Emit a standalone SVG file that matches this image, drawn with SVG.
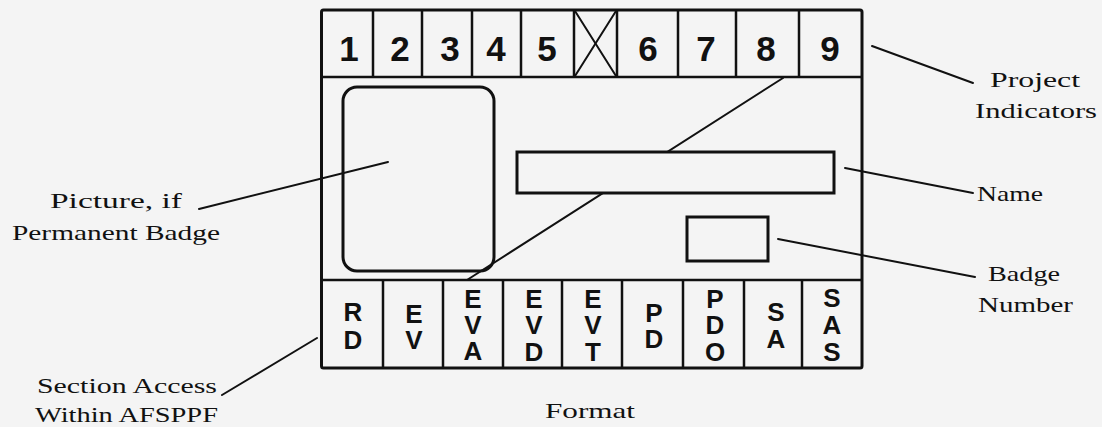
<svg xmlns="http://www.w3.org/2000/svg" width="1102" height="427" viewBox="0 0 1102 427">
<style>
.bg{fill:#f4f4f4}
.frame{fill:none;stroke:#111;stroke-width:3;stroke-linejoin:round}
.div{fill:none;stroke:#111;stroke-width:2.5}
.field{fill:#f4f4f4;stroke:#111;stroke-width:3}
.lead{fill:none;stroke:#111;stroke-width:2;stroke-linecap:round}
.num{font-family:"Liberation Sans",Arial,sans-serif;font-weight:bold;font-size:35px;fill:#111;text-anchor:middle}
.let{font-family:"Liberation Sans",Arial,sans-serif;font-weight:bold;font-size:26px;fill:#111;text-anchor:middle}
.lbl{font-family:"Liberation Serif","Times New Roman",serif;font-size:21px;fill:#111}
</style>
<rect class="bg" x="0" y="0" width="1102" height="427"/>

<g id="card">
  <rect class="frame" x="321.5" y="10" width="540.5" height="358" rx="2"/>
  <line class="div" x1="321.5" y1="77" x2="862" y2="77"/>
  <line class="div" x1="321.5" y1="280" x2="862" y2="280"/>
</g>

<g id="project-indicators-row">
  <g class="div">
    <line x1="373" y1="10" x2="373" y2="77"/>
    <line x1="422" y1="10" x2="422" y2="77"/>
    <line x1="472" y1="10" x2="472" y2="77"/>
    <line x1="521" y1="10" x2="521" y2="77"/>
    <line x1="574" y1="10" x2="574" y2="77"/>
    <line x1="617" y1="10" x2="617" y2="77"/>
    <line x1="678" y1="10" x2="678" y2="77"/>
    <line x1="736" y1="10" x2="736" y2="77"/>
    <line x1="799" y1="10" x2="799" y2="77"/>
  </g>
  <g class="lead">
    <line x1="575" y1="11" x2="616" y2="76"/>
    <line x1="616" y1="11" x2="575" y2="76"/>
  </g>
  <text class="num" x="349" y="61">1</text>
  <text class="num" x="400" y="61">2</text>
  <text class="num" x="450" y="61">3</text>
  <text class="num" x="496" y="61">4</text>
  <text class="num" x="547" y="61">5</text>
  <text class="num" x="648" y="61">6</text>
  <text class="num" x="706" y="61">7</text>
  <text class="num" x="766" y="61">8</text>
  <text class="num" x="830" y="61">9</text>
</g>

<g id="diagonal">
  <line class="lead" x1="783" y1="78" x2="467" y2="280"/>
</g>

<g id="picture-field">
  <rect class="frame" x="343" y="87" width="151" height="184" rx="14"/>
</g>
<g id="name-field">
  <rect class="field" x="517" y="152" width="317" height="41"/>
</g>
<g id="badge-number-field">
  <rect class="field" x="687" y="217" width="81" height="44"/>
</g>

<g id="section-access-row">
  <g class="div">
    <line x1="383" y1="280" x2="383" y2="368"/>
    <line x1="443" y1="280" x2="443" y2="368"/>
    <line x1="503" y1="280" x2="503" y2="368"/>
    <line x1="562" y1="280" x2="562" y2="368"/>
    <line x1="622" y1="280" x2="622" y2="368"/>
    <line x1="683" y1="280" x2="683" y2="368"/>
    <line x1="744" y1="280" x2="744" y2="368"/>
    <line x1="802" y1="280" x2="802" y2="368"/>
  </g>
  <text class="let" x="353" y="321">R</text>
  <text class="let" x="353" y="349">D</text>
  <text class="let" x="414" y="323">E</text>
  <text class="let" x="414" y="349">V</text>
  <text class="let" x="473" y="308">E</text>
  <text class="let" x="473" y="334">V</text>
  <text class="let" x="473" y="360">A</text>
  <text class="let" x="534" y="308">E</text>
  <text class="let" x="534" y="334">V</text>
  <text class="let" x="534" y="361">D</text>
  <text class="let" x="593" y="308">E</text>
  <text class="let" x="593" y="334">V</text>
  <text class="let" x="593" y="361">T</text>
  <text class="let" x="654" y="322">P</text>
  <text class="let" x="654" y="348">D</text>
  <text class="let" x="715" y="308">P</text>
  <text class="let" x="715" y="334">D</text>
  <text class="let" x="715" y="361">O</text>
  <text class="let" x="776" y="321">S</text>
  <text class="let" x="776" y="348">A</text>
  <text class="let" x="832" y="307">S</text>
  <text class="let" x="832" y="334">A</text>
  <text class="let" x="832" y="361">S</text>
</g>

<g id="connectors">
  <line class="lead" x1="199" y1="209" x2="388" y2="162"/>
  <line class="lead" x1="872" y1="46" x2="973" y2="83"/>
  <line class="lead" x1="845" y1="168" x2="973" y2="193"/>
  <line class="lead" x1="778" y1="239" x2="975" y2="277"/>
  <line class="lead" x1="222" y1="395" x2="317" y2="338"/>
</g>

<g id="label-picture">
  <text class="lbl" x="50" y="208" textLength="132" lengthAdjust="spacingAndGlyphs">Picture, if</text>
  <text class="lbl" x="12" y="240" textLength="208" lengthAdjust="spacingAndGlyphs">Permanent Badge</text>
</g>
<g id="label-project-indicators">
  <text class="lbl" x="990" y="87" textLength="90" lengthAdjust="spacingAndGlyphs">Project</text>
  <text class="lbl" x="975" y="118" textLength="122" lengthAdjust="spacingAndGlyphs">Indicators</text>
</g>
<g id="label-name">
  <text class="lbl" x="977" y="201" textLength="66" lengthAdjust="spacingAndGlyphs">Name</text>
</g>
<g id="label-badge-number">
  <text class="lbl" x="988" y="281" textLength="72" lengthAdjust="spacingAndGlyphs">Badge</text>
  <text class="lbl" x="978" y="312" textLength="95" lengthAdjust="spacingAndGlyphs">Number</text>
</g>
<g id="label-section-access">
  <text class="lbl" x="37" y="393" textLength="180" lengthAdjust="spacingAndGlyphs">Section Access</text>
  <text class="lbl" x="35" y="422" textLength="183" lengthAdjust="spacingAndGlyphs">Within AFSPPF</text>
</g>
<g id="label-format">
  <text class="lbl" x="545" y="418" textLength="90" lengthAdjust="spacingAndGlyphs">Format</text>
</g>
</svg>
